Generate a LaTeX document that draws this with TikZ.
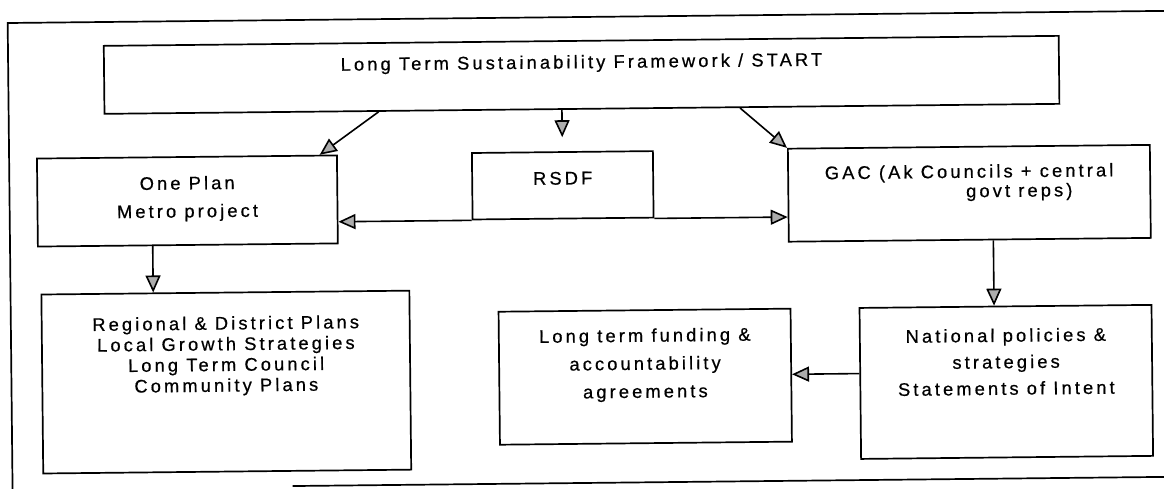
\documentclass[tikz,border=0pt]{standalone}
\usepackage{fontspec}
\newfontfamily\scanfont{Liberation Sans}[LetterSpace=17, FakeBold=0.6]
\usetikzlibrary{arrows.meta}
% width, height, first baseline from top, baselineskip, text
\newcommand\bxt[5]{\begin{minipage}[t][#2][t]{#1}\centering\scanfont\fontsize{18.3pt}{#4}\selectfont\vspace*{\dimexpr#3-14pt\relax}\rule{0pt}{14pt}#5\par\end{minipage}}
\tikzset{
  bx/.style={draw=black, line width=1.7pt, inner sep=0pt, anchor=north west},
  arr/.style={draw=black, line width=1.6pt, -{Triangle[open, fill=gray!65, length=17pt, width=15pt]}},
  frame/.style={draw=black, line width=1.7pt}
}
\begin{document}
\begin{tikzpicture}[x=1pt, y=-1pt]
\useasboundingbox (0,0) rectangle (1164,489);
\clip (0,0) rectangle (1164,489);
\fill[white] (0,0) rectangle (1164,489);
\begin{scope}[rotate around={0.6:(582,244)}, transform shape]
  % outer frame
  \draw[frame] (1220,17) -- (10,17) -- (10,510);
  \draw[frame] (290,483) -- (1220,483);
  % boxes
  \node[bx] (top) at (105,40) {\bxt{955pt}{68pt}{27.4pt}{22pt}{Long Term Sustainability Framework / START}};
  \node[bx] (oneplan) at (37,152) {\bxt{300pt}{88pt}{32.5pt}{28pt}{One Plan\\Metro project}};
  \node[bx] (rsdf) at (472,151) {\bxt{181pt}{66.5pt}{32.5pt}{22pt}{RSDF}};
  \node[bx] (gac) at (788,150) {\bxt{362pt}{93pt}{31pt}{19.5pt}{GAC (Ak Councils + central\\\hspace*{100pt}govt reps)}};
  \node[bx] (regional) at (40,288) {\bxt{368pt}{179pt}{37pt}{20.7pt}{Regional \& District Plans\\Local Growth Strategies\\Long Term Council\\Community Plans}};
  \node[bx] (longterm) at (497,310) {\bxt{292pt}{133pt}{31.6pt}{28pt}{Long term funding \&\\accountability\\agreements}};
  \node[bx] (national) at (858,310) {\bxt{292pt}{151pt}{35.4pt}{26.5pt}{National policies \&\\strategies\\Statements of Intent}};
  % connectors
  \draw[arr] ([xshift=275pt]top.south west) -- ([xshift=-18pt]oneplan.north east);
  \coordinate (c1) at (rsdf.north |- top.south);
  \draw[arr, shorten >=14pt] (c1) -- (rsdf.north);
  \draw[arr] ([xshift=636.5pt]top.south west) -- (gac.north west);
  \draw[arr] (rsdf.south west) -- (rsdf.south west -| oneplan.east);
  \draw[arr] (rsdf.south east) -- (rsdf.south east -| gac.west);
  \coordinate (c2) at ([xshift=115.7pt]oneplan.south west);
  \draw[arr] (c2) -- (c2 |- regional.north);
  \coordinate (c3) at ([xshift=23.6pt]gac.south);
  \draw[arr] (c3) -- (c3 |- national.north);
  \coordinate (c4) at ([yshift=-66.5pt]national.north west);
  \draw[arr] (c4) -- (c4 -| longterm.east);
\end{scope}
\end{tikzpicture}
\end{document}
